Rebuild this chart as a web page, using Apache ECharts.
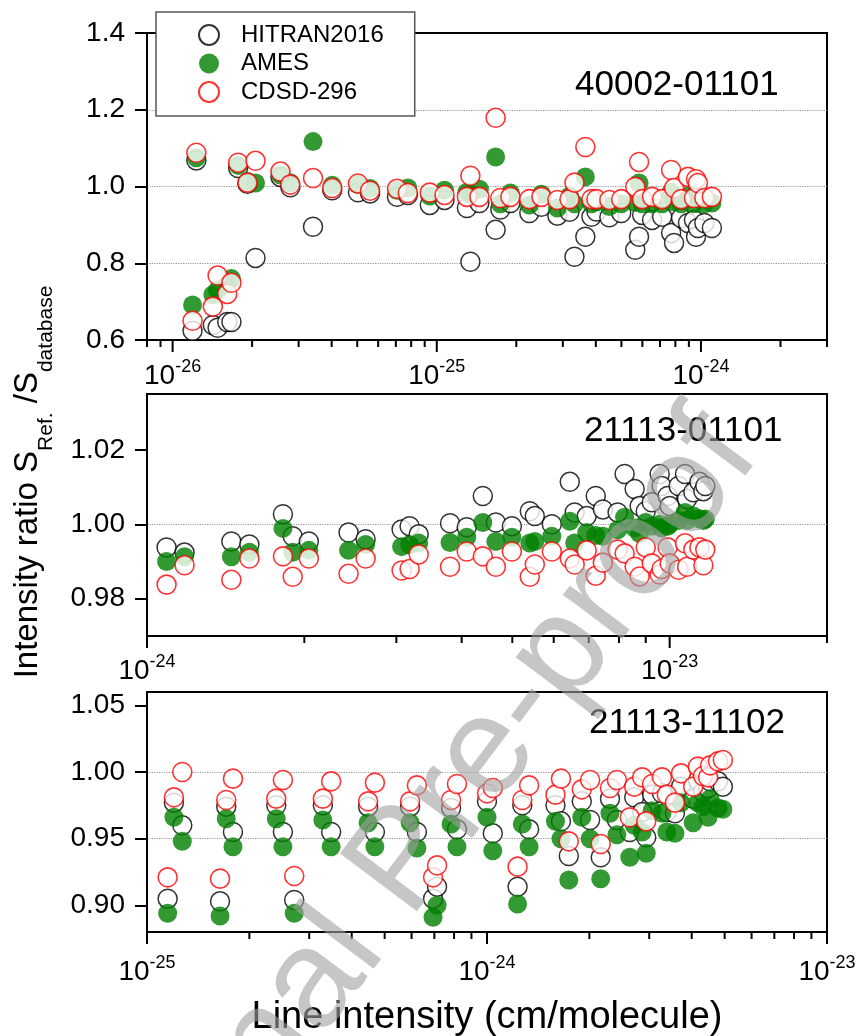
<!DOCTYPE html>
<html>
<head>
<meta charset="utf-8">
<script src="https://cdn.jsdelivr.net/npm/echarts@6/dist/echarts.min.js"></script>
<style>
  html, body { margin: 0; padding: 0; background: #fff; }
  #chart { width: 861px; height: 1036px; }
</style>
</head>
<body>
<div id="chart"></div>
<script>
// ---- Band 40002-01101 : line intensity (cm/molecule) and S_ref / S_database ----
const p1Intensity = [1.19e-26, 1.23e-26, 1.42e-26, 1.48e-26, 1.61e-26, 1.67e-26, 1.77e-26, 1.92e-26, 2.06e-26, 2.56e-26,
  2.79e-26, 3.40e-26, 4.02e-26, 5.03e-26, 5.59e-26, 7.07e-26, 7.77e-26, 9.41e-26, 1.07e-25, 1.30e-25,
  1.34e-25, 1.45e-25, 1.67e-25, 1.74e-25, 1.90e-25, 2.24e-25, 2.49e-25, 2.86e-25, 3.18e-25, 3.32e-25,
  3.65e-25, 3.85e-25, 4.02e-25, 4.50e-25, 4.99e-25, 5.64e-25, 5.83e-25, 5.99e-25, 6.53e-25, 7.13e-25,
  7.71e-25, 7.91e-25, 8.41e-25, 8.93e-25, 9.41e-25, 9.58e-25, 9.74e-25, 1.03e-24, 1.10e-24];
const p1Hitran = [0.624, 1.068, 0.639, 0.632, 0.647, 0.647, 1.048, 1.007, 0.814, 1.025,
  0.998, 0.895, 0.990, 0.985, 0.982, 0.973, 0.978, 0.952, 0.965, 0.944,
  0.804, 0.957, 0.887, 0.940, 0.957, 0.931, 0.947, 0.924, 0.934, 0.817,
  0.869, 0.921, 0.935, 0.920, 0.931, 0.835, 0.869, 0.926, 0.913, 0.921,
  0.879, 0.853, 0.918, 0.905, 0.913, 0.869, 0.892, 0.905, 0.892];
const p1Ames = [0.691, 1.075, 0.718, 0.730, 0.745, 0.760, 1.055, 1.013, 1.009, 1.030,
  1.010, 1.117, 1.003, 1.005, 0.995, 0.990, 0.996, 0.975, 0.990, 0.985,
  0.980, 0.993, 1.077, 0.955, 0.983, 0.952, 0.980, 0.944, 0.975, 0.955,
  1.025, 0.955, 0.960, 0.948, 0.955, 0.958, 1.009, 0.955, 0.955, 0.955,
  0.985, 0.960, 0.955, 0.975, 0.955, 0.980, 0.970, 0.955, 0.957];
const p1Cdsd = [0.650, 1.088, 0.687, 0.768, 0.720, 0.749, 1.062, 1.010, 1.067, 1.039,
  1.005, 1.022, 0.996, 1.008, 0.989, 0.994, 0.983, 0.984, 0.978, 0.973,
  1.028, 0.973, 1.179, 0.970, 0.973, 0.967, 0.973, 0.965, 0.967, 1.010,
  1.103, 0.967, 0.967, 0.965, 0.967, 0.999, 1.064, 0.967, 0.973, 0.967,
  1.043, 0.996, 0.967, 1.025, 0.970, 1.019, 1.009, 0.970, 0.973];

// ---- Band 21113-01101 ----
const p2Intensity = [1.09e-24, 1.18e-24, 1.45e-24, 1.57e-24, 1.82e-24, 1.90e-24, 2.04e-24, 2.43e-24, 2.62e-24, 3.07e-24,
  3.18e-24, 3.31e-24, 3.80e-24, 4.09e-24, 4.39e-24, 4.65e-24, 4.99e-24, 5.40e-24, 5.52e-24, 5.95e-24,
  6.44e-24, 6.58e-24, 6.94e-24, 7.22e-24, 7.45e-24, 7.95e-24, 8.20e-24, 8.57e-24, 8.76e-24, 9.00e-24,
  9.24e-24, 9.57e-24, 9.65e-24, 9.91e-24, 1.00e-23, 1.04e-23, 1.07e-23, 1.08e-23, 1.11e-23, 1.14e-23,
  1.16e-23, 1.17e-23];
const p2Hitran = [0.9938, 0.9924, 0.9954, 0.9946, 1.0027, 0.9968, 0.9954, 0.9978, 0.9960, 0.9986,
  0.9995, 0.9973, 1.0003, 0.9992, 1.0076, 1.0005, 0.9995, 1.0035, 1.0022, 1.0000,
  1.0114, 1.0032, 1.0022, 1.0076, 1.0040, 1.0032, 1.0135, 1.0095, 1.0049, 1.0035,
  1.0059, 1.0135, 1.0103, 1.0076, 1.0049, 1.0103, 1.0135, 1.0068, 1.0086, 1.0114,
  1.0089, 1.0103];
const p2Ames = [0.9900, 0.9913, 0.9913, 0.9925, 0.9989, 0.9925, 0.9930, 0.9930, 0.9946, 0.9940,
  0.9945, 0.9950, 0.9951, 0.9965, 1.0005, 0.9954, 0.9965, 0.9950, 0.9954, 0.9968,
  1.0008, 0.9950, 0.9978, 0.9970, 0.9968, 0.9985, 1.0019, 0.9990, 0.9975, 1.0005,
  0.9995, 1.0000, 0.9990, 0.9995, 1.0000, 1.0010, 1.0032, 1.0010, 1.0022, 1.0015,
  1.0010, 1.0014];
const p2Cdsd = [0.9838, 0.9890, 0.9851, 0.9908, 0.9914, 0.9859, 0.9908, 0.9867, 0.9908, 0.9876,
  0.9880, 0.9919, 0.9886, 0.9927, 0.9914, 0.9886, 0.9927, 0.9859, 0.9892, 0.9927,
  0.9908, 0.9892, 0.9930, 0.9862, 0.9897, 0.9932, 0.9922, 0.9886, 0.9860, 0.9938,
  0.9895, 0.9865, 0.9880, 0.9938, 0.9895, 0.9878, 0.9949, 0.9886, 0.9932, 0.9938,
  0.9890, 0.9932];

// ---- Band 21113-11102 ----
const p3Intensity = [1.15e-25, 1.20e-25, 1.27e-25, 1.64e-25, 1.71e-25, 1.79e-25, 2.40e-25, 2.51e-25, 2.71e-25, 3.29e-25,
  3.48e-25, 4.47e-25, 4.68e-25, 5.94e-25, 6.22e-25, 6.94e-25, 7.13e-25, 7.84e-25, 8.16e-25, 1.00e-24,
  1.04e-24, 1.23e-24, 1.27e-24, 1.33e-24, 1.59e-24, 1.65e-24, 1.74e-24, 1.90e-24, 2.01e-24, 2.16e-24,
  2.30e-24, 2.41e-24, 2.63e-24, 2.71e-24, 2.86e-24, 2.94e-24, 3.06e-24, 3.27e-24, 3.38e-24, 3.57e-24,
  3.72e-24, 4.04e-24, 4.17e-24, 4.32e-24, 4.47e-24, 4.53e-24, 4.78e-24, 4.94e-24];
const p3Hitran = [0.905, 0.977, 0.960, 0.903, 0.974, 0.955, 0.975, 0.955, 0.904, 0.975,
  0.955, 0.974, 0.955, 0.974, 0.955, 0.905, 0.914, 0.973, 0.957, 0.978,
  0.954, 0.914, 0.975, 0.957, 0.975, 0.963, 0.937, 0.978, 0.964, 0.936,
  0.980, 0.964, 0.955, 0.981, 0.970, 0.951, 0.983, 0.984, 0.970, 0.969,
  0.989, 0.980, 0.994, 0.985, 0.988, 0.993, 0.993, 0.989];
const p3Ames = [0.894, 0.966, 0.948, 0.892, 0.965, 0.944, 0.965, 0.944, 0.894, 0.964,
  0.944, 0.962, 0.944, 0.962, 0.943, 0.891, 0.900, 0.961, 0.944, 0.966,
  0.941, 0.901, 0.961, 0.944, 0.963, 0.950, 0.919, 0.966, 0.950, 0.920,
  0.969, 0.953, 0.936, 0.960, 0.955, 0.939, 0.971, 0.969, 0.955, 0.954,
  0.977, 0.962, 0.977, 0.974, 0.966, 0.980, 0.973, 0.972];
const p3Cdsd = [0.921, 0.981, 1.000, 0.920, 0.979, 0.995, 0.980, 0.994, 0.922, 0.980,
  0.993, 0.978, 0.992, 0.978, 0.990, 0.921, 0.930, 0.979, 0.991, 0.984,
  0.988, 0.929, 0.979, 0.990, 0.983, 0.995, 0.948, 0.987, 0.994, 0.946,
  0.988, 0.994, 0.966, 0.989, 0.996, 0.963, 0.991, 0.996, 0.983, 0.977,
  0.999, 0.989, 1.004, 0.997, 0.996, 1.005, 1.008, 1.009];

const seriesNames = ['HITRAN2016', 'AMES', 'CDSD-296'];
const bandLabels = ['40002-01101', '21113-01101', '21113-11102'];

// x ranges (cm/molecule) and y ranges / tick values of the three panels
const xRanges = [[8e-27, 3e-24], [1e-24, 2e-23], [1e-25, 1e-23]];
const yRanges = [[0.6, 1.4], [0.97, 1.035], [0.88, 1.06]];
const yTickValues = [[0.6, 0.8, 1.0, 1.2, 1.4], [0.98, 1.00, 1.02], [0.90, 0.95, 1.00, 1.05]];
const yDecimals = [1, 2, 2];

// Intensities are plotted in units of 1e-28 cm/molecule to keep the log scale
// well inside double precision rounding; labels convert back to powers of ten.
const X_EXP = 28;
const X_UNIT = Math.pow(10, X_EXP);

const FONT = '"Liberation Sans", Arial, Helvetica, sans-serif';

const panels = [
  { x: p1Intensity, ys: [p1Hitran, p1Ames, p1Cdsd] },
  { x: p2Intensity, ys: [p2Hitran, p2Ames, p2Cdsd] },
  { x: p3Intensity, ys: [p3Hitran, p3Ames, p3Cdsd] }
];

const gridBoxes = [
  { left: 147, top: 33, width: 680, height: 307 },
  { left: 147, top: 394, width: 680, height: 242 },
  { left: 147, top: 692, width: 680, height: 240 }
];
const xLabelMargins = [19, 18, 23];

const seriesStyles = [
  { color: '#ffffff', borderColor: '#000000', borderWidth: 1.5 },
  { color: '#008000', borderColor: '#008000', borderWidth: 0 },
  { color: '#ffffff', borderColor: '#ff0000', borderWidth: 1.6 }
];

function decadeLabel(v) {
  const l = Math.log10(v);
  const e = Math.round(l);
  if (Math.abs(l - e) > 1e-6) return '';
  return '{b|10}{sup|' + (e - X_EXP) + '}';
}

const grid = gridBoxes.map(g => Object.assign({
  show: true, borderColor: '#000', borderWidth: 2, backgroundColor: 'transparent'
}, g));

const xAxis = xRanges.map((r, i) => ({
  type: 'log', logBase: 10, gridIndex: i,
  min: r[0] * X_UNIT, max: r[1] * X_UNIT,
  axisLine: { onZero: false, lineStyle: { color: '#000', width: 2 } },
  axisTick: { show: false },
  splitLine: { show: false },
  axisLabel: {
    show: true, interval: 0, margin: xLabelMargins[i],
    showMinLabel: true, showMaxLabel: true,
    formatter: decadeLabel,
    rich: {
      b: { fontSize: 28, fontFamily: FONT, color: '#000', lineHeight: 34, verticalAlign: 'middle' },
      sup: { fontSize: 18, fontFamily: FONT, color: '#000', height: 16, verticalAlign: 'top' }
    }
  }
}));

const yAxis = yRanges.map((r, i) => ({
  type: 'value', gridIndex: i, min: r[0], max: r[1],
  axisLine: { show: true, lineStyle: { color: '#000', width: 2 } },
  axisTick: { show: true, length: 12, lineStyle: { color: '#000', width: 2 }, customValues: yTickValues[i] },
  axisLabel: {
    margin: 22, fontSize: 28, fontFamily: FONT, color: '#000',
    customValues: yTickValues[i],
    formatter: v => v.toFixed(yDecimals[i])
  },
  splitLine: { show: true, showMinLine: false, showMaxLine: false,
    lineStyle: { type: 'dotted', color: '#9a9a9a', width: 1.2 } }
}));

const series = [];
panels.forEach((p, gi) => {
  p.ys.forEach((ys, si) => {
    series.push({
      type: 'scatter', name: seriesNames[si],
      xAxisIndex: gi, yAxisIndex: gi,
      symbol: 'circle', symbolSize: 19,
      itemStyle: seriesStyles[si],
      emphasis: { disabled: true },
      data: p.x.map((x, k) => [x * X_UNIT, ys[k]])
    });
  });
});

const chart = echarts.init(document.getElementById('chart'), null, { renderer: 'canvas' });
chart.setOption({
  animation: false,
  backgroundColor: '#fff',
  grid, xAxis, yAxis, series,
  legend: {
    data: seriesNames, orient: 'vertical', left: 156, top: 12,
    itemWidth: 54, itemHeight: 20, itemGap: 4.5,
    padding: [11, 31, 12, 42],
    backgroundColor: '#fff', borderColor: '#555', borderWidth: 1.5, borderRadius: 0,
    selectedMode: false,
    textStyle: { fontSize: 24, fontFamily: FONT, color: '#000', lineHeight: 20 }
  }
});

// log-axis ticks (decades long, 2..9 short) placed through the axis scales
const graphic = [];
xRanges.forEach((r, i) => {
  const yPix = chart.convertToPixel({ yAxisIndex: i }, yRanges[i][0]);
  const lo = r[0] * X_UNIT, hi = r[1] * X_UNIT;
  for (let e = Math.floor(Math.log10(lo)); e <= Math.ceil(Math.log10(hi)); e++) {
    for (let m = 1; m <= 9; m++) {
      const v = m * Math.pow(10, e);
      if (v < lo * 0.9999 || v > hi * 1.0001) continue;
      const x = chart.convertToPixel({ xAxisIndex: i }, v);
      const len = m === 1 ? 12 : 7;
      graphic.push({ type: 'line', silent: true, z: 5,
        shape: { x1: x, y1: yPix, x2: x, y2: yPix + len },
        style: { stroke: '#000', lineWidth: 2 } });
    }
  }
});

// band labels inside the panels
const bandPos = [[572, 85], [581, 431], [586, 723]];
bandLabels.forEach((t, i) => {
  graphic.push({ type: 'text', x: bandPos[i][0], y: bandPos[i][1], z: 6, silent: true,
    style: { text: t, font: '35px ' + FONT, fill: '#000', align: 'left', verticalAlign: 'middle',
      backgroundColor: '#fff', padding: [0, 3] } });
});

// axis titles
graphic.push({ type: 'text', x: 487, y: 1018, z: 6, silent: true,
  style: { text: 'Line intensity (cm/molecule)', font: '38px ' + FONT, fill: '#000',
    align: 'center', verticalAlign: 'middle' } });
graphic.push({ type: 'text', x: 28, y: 482, rotation: Math.PI / 2, z: 6, silent: true,
  style: {
    text: '{m|Intensity ratio S}{s|Ref.}{m| /S}{s|database}',
    align: 'center', verticalAlign: 'middle',
    rich: {
      m: { fontSize: 33, fontFamily: FONT, fill: '#000', lineHeight: 60, verticalAlign: 'middle' },
      s: { fontSize: 21, fontFamily: FONT, fill: '#000', height: 24, verticalAlign: 'bottom' }
    }
  } });

// journal watermark over the figure
graphic.push({ type: 'text', x: 405, y: 863, rotation: 53 * Math.PI / 180, z: 100, silent: true,
  style: { text: 'Journal Pre-proof', font: '140px ' + FONT, fill: 'rgba(160,160,160,0.6)',
    align: 'center', verticalAlign: 'middle' } });

chart.setOption({ graphic });
</script>
</body>
</html>
